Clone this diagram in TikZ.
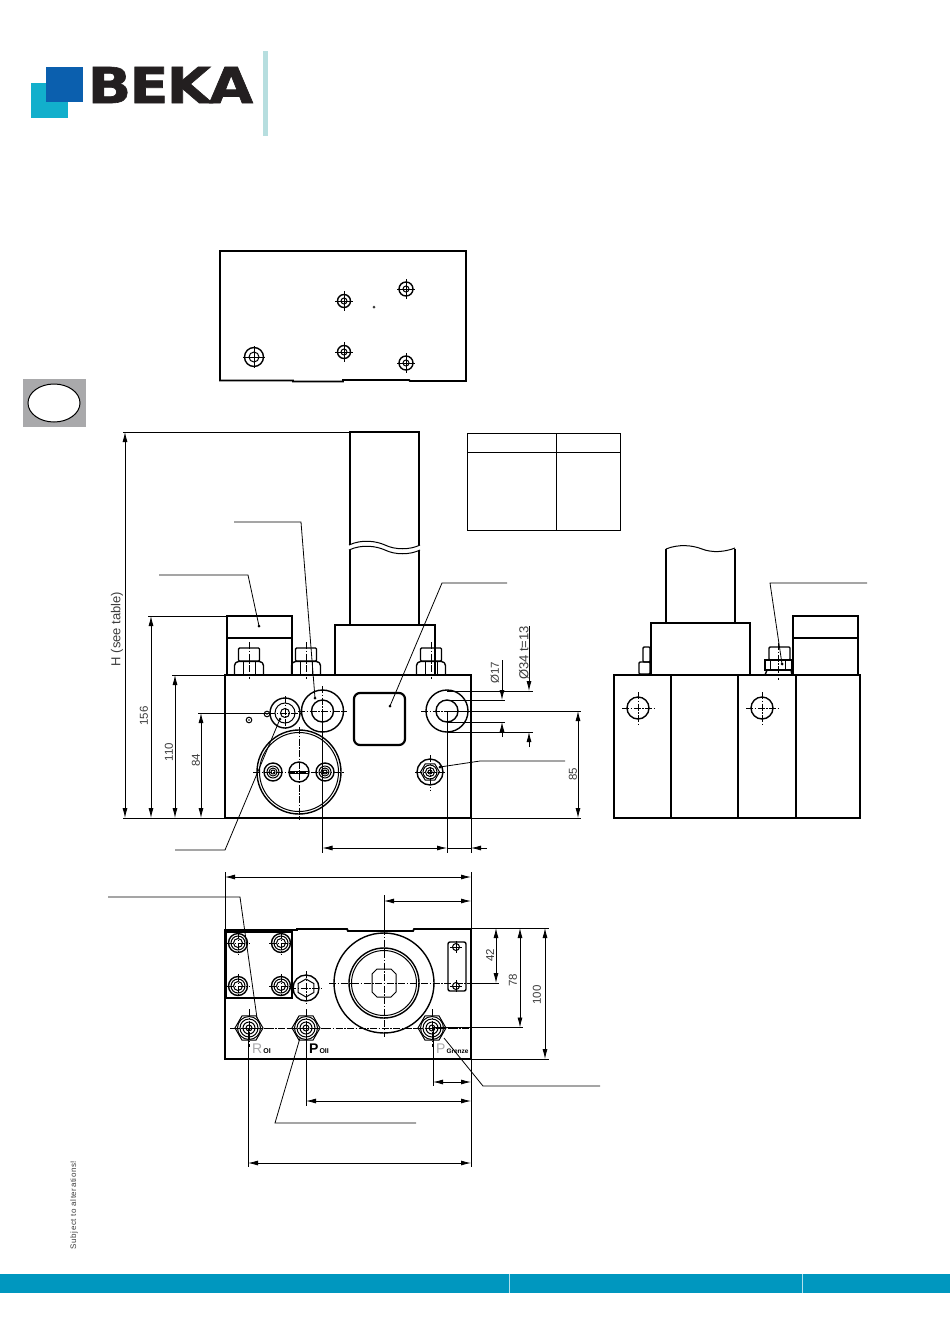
\documentclass[tikz,border=0pt]{standalone}
\usepackage{fontspec}
\usepackage{xcolor}
\setmainfont{Liberation Sans}
\newfontfamily\logofont[BoldFeatures={FakeBold=1.2,LetterSpace=-3}]{DejaVu Sans}
\usetikzlibrary{arrows.meta}
\usetikzlibrary{positioning}
\usetikzlibrary{calc}
\definecolor{bekacyan}{HTML}{12AFCC}
\definecolor{bekablue}{HTML}{0B5FAE}
\definecolor{bekabar}{HTML}{B7DEDF}
\definecolor{bekaband}{HTML}{0097BF}
\definecolor{bekagrey}{HTML}{A9A9AB}
\definecolor{dimgrey}{HTML}{3C3C3C}
\tikzset{
  outline/.style={draw=black,line width=1.8pt},
  thinpart/.style={draw=black,line width=1pt},
  extline/.style={draw=black,line width=0.8pt},
  leader/.style={draw=black,line width=0.8pt},
  cline/.style={draw=black,line width=0.7pt,dash pattern=on 7pt off 1.5pt on 1.5pt off 1.5pt},
  dimline/.style={draw=black,line width=0.8pt,{Latex[length=10pt,width=5pt]}-{Latex[length=10pt,width=5pt]}},
  dimend/.style={draw=black,line width=0.8pt,-{Latex[length=10pt,width=5pt]}},
  dimtext/.style={font=\fontsize{11.5}{13}\selectfont,text=dimgrey,rotate=90,inner sep=0pt},
  longtext/.style={dimtext,font=\fontsize{13}{14}\selectfont},
  portlabel/.style={font=\fontsize{14}{15}\selectfont,anchor=base west,inner sep=0pt},
  dotmark/.style={fill=black,draw=none}
}
% cross of centre lines
\newcommand{\ccross}[2]{
  \draw[cline] ($(#1)+(-#2,0)$) -- ($(#1)+(#2,0)$);
  \draw[cline] ($(#1)+(0,-#2)$) -- ($(#1)+(0,#2)$);
}
% flat topped hexagon
\newcommand{\hexa}[2]{
  \draw[thinpart,shift={(#1)}] (0:#2) -- (60:#2) -- (120:#2) -- (180:#2) -- (240:#2) -- (300:#2) -- cycle;
}
% fitting seen from the end
\newcommand{\portnut}[1]{
  \hexa{#1}{14}
  \draw[thinpart] (#1) circle (11.5);
  \draw[thinpart] (#1) circle (9);
  \draw[thinpart] (#1) circle (6);
  \draw[thinpart] (#1) circle (3);
  \ccross{#1}{19}
}
% mounting bolt
\newcommand{\boltdown}[1]{
  \draw[outline,line width=1.4pt] (#1) circle (9.5);
  \draw[thinpart] (#1) circle (7);
  \draw[thinpart] (#1) circle (4.5);
  \ccross{#1}{12}
}
% fitting seen from the side
\newcommand{\sidenut}[1]{
  \draw[outline,line width=1.4pt,rounded corners=1pt] (#1-10.5,661) rectangle (#1+10.5,648);
  \draw[outline,line width=1.4pt,rounded corners=1.5pt] (#1-14.5,674.5) -- (#1-14.5,664) -- (#1-12,661.5) -- (#1+12,661.5) -- (#1+14.5,664) -- (#1+14.5,674.5);
  \draw[thinpart] (#1-6,662) -- (#1-6,674) (#1+6,662) -- (#1+6,674);
  \draw[cline] (#1,642) -- (#1,679);
}
\begin{document}
\begin{tikzpicture}[x=1pt,y=-1pt]
  \useasboundingbox (0,0) rectangle (950,1344);
  % logo
  \fill[bekacyan] (31,83) rectangle (68,118);
  \fill[bekablue] (46,67) rectangle (83,102);
  \node[inner sep=0pt,xscale=1.15] (beka) at (170.5,85) {\logofont\fontsize{49.5}{50}\selectfont\bfseries\textcolor[HTML]{231F20}{BEKA}};
  \fill[bekabar] (263,51) rectangle (268,136);
  % side tab
  \fill[bekagrey] (23,379) rectangle (86,427);
  \draw[fill=white,line width=1pt] (54,403) ellipse (26 and 19);
  % bottom band
  \fill[bekaband] (0,1274) rectangle (950,1293);
  \draw[white!70!bekaband,line width=0.5pt] (509,1274) -- (509,1293) (802,1274) -- (802,1293);
  \node[rotate=90,inner sep=0pt,text=dimgrey,font=\fontsize{8}{9}\selectfont\addfontfeature{LetterSpace=7}] (subject) at (74,1205) {Subject to alterations!};

  % top plate
  \draw[outline] (293,380.5) -- (220,380.5) -- (220,251) -- (466,251) -- (466,381) -- (410,381) -- (409,380) -- (343,380) -- (343,381.5) -- (293,381.5) -- cycle;
  \draw[outline,line width=1.4pt] (254,357) circle (9.5);
  \draw[thinpart] (254,357) circle (5);
  \foreach \hx/\hy/\hr in {344/301/6.5,406/289/7,344/352/6.5,406/363/7}{
    \draw[outline,line width=1.4pt] (\hx,\hy) circle (\hr);
    \draw[thinpart] (\hx,\hy) circle (3);
    \draw[extline] (\hx-9,\hy) -- (\hx+9,\hy) (\hx,\hy-10) -- (\hx,\hy+10);
  }
  \draw[extline] (243,357) -- (265,357) (254,346) -- (254,368);
  \fill[dimgrey] (374,307) circle (1.5);

  % table
  \draw[thinpart] (467,433) rectangle (620,530);
  \draw[thinpart] (467,452) -- (620,452) (556,433) -- (556,530);

  % front view
  \draw[outline] (225,675) rectangle (471,818);
  \draw[outline] (227,675) -- (227,616) -- (292,616) -- (292,675);
  \draw[outline] (227,638) -- (292,638);
  \draw[outline] (335,675) -- (335,625) -- (435,625) -- (435,675);
  \draw[outline] (350,625) -- (350,550) (350,545) -- (350,432) -- (419,432) -- (419,545) (419,550) -- (419,625);
  \draw[thinpart] (349,545) .. controls (362,539) and (376,541) .. (385,545) .. controls (395,550) and (410,550) .. (420,545);
  \draw[thinpart] (349,550) .. controls (362,544) and (376,546) .. (385,550) .. controls (395,555) and (410,555) .. (420,550);
  \sidenut{249}
  \sidenut{306}
  \sidenut{431}
  \draw[outline,line width=1.4pt] (285,713) circle (15);
  \draw[thinpart] (285,713) circle (10);
  \draw[thinpart] (285,713) circle (4.5);
  \draw[cline] (268,713) -- (302,713) (285,696) -- (285,730);
  \draw[outline,line width=1.4pt] (322.5,711) circle (21);
  \draw[outline,line width=1.4pt] (322.5,711) circle (11);
  \draw[cline] (298,711) -- (347,711) (322.5,686) -- (322.5,736);
  \draw[outline,line width=2.2pt,rounded corners=6pt] (354,693) rectangle (405,745);
  \draw[outline,line width=1.4pt] (447,711) circle (21);
  \draw[outline,line width=1.4pt] (447,711) circle (11);
  \draw[cline] (421,711) -- (473,711);
  \draw[outline,line width=1.4pt] (299,772) circle (42);
  \draw[thinpart] (299,772) circle (39.5);
  \draw[cline] (253,772) -- (345,772) (299,727) -- (299,820);
  \draw[outline,line width=1.4pt] (299,772) circle (10);
  \draw[thinpart] (289,771) -- (309,771) (289,773) -- (309,773);
  \foreach \hx in {273,325}{
    \draw[outline,line width=1.4pt] (\hx,772) circle (9);
    \draw[thinpart] (\hx,772) circle (6);
    \draw[thinpart] (\hx,772) circle (4);
    \draw[thinpart] (\hx,772) circle (2);
  }
  \draw[outline,line width=1.4pt] (430,772) circle (13);
  \hexa{430,772}{9.5}
  \draw[thinpart] (430,772) circle (7);
  \draw[thinpart] (430,772) circle (4.5);
  \draw[thinpart] (430,772) circle (2);
  \draw[cline] (415,772) -- (445,772) (430,755) -- (430,790);
  \draw[thinpart,fill=white] (267,714) circle (2.8);
  \draw[thinpart,fill=white] (249,720) circle (2.8);
  \fill (249,720) circle (0.8);
  \fill (267,714) circle (0.8);

  % front view dimensions
  \draw[extline] (123,432) -- (350,432);
  \draw[extline] (123,818) -- (225,818);
  \draw[extline] (148,616) -- (227,616);
  \draw[extline] (172,675) -- (225,675);
  \draw[extline] (198,713) -- (270,713);
  \draw[dimline] (125,432) -- (125,818);
  \draw[dimline] (151,616) -- (151,818);
  \draw[dimline] (175,675) -- (175,818);
  \draw[dimline] (201,713) -- (201,818);
  \node[longtext] (hsee) at (117,629) {H (see table)};
  \node[dimtext] (dima) at (144,716) {156};
  \node[dimtext] (dimb) at (169,752) {110};
  \node[dimtext] (dimc) at (196,760) {84};
  \draw[extline] (447,691) -- (533,691);
  \draw[extline] (447,700) -- (505,700);
  \draw[extline] (447,722) -- (505,722);
  \draw[extline] (447,732) -- (533,732);
  \draw[extline] (447,711) -- (581,711);
  \draw[extline] (471,818) -- (581,818);
  \draw[dimend] (502,660) -- (502,700);
  \draw[dimend] (502,737) -- (502,722);
  \draw[dimend] (529,626) -- (529,691);
  \draw[dimend] (529,747) -- (529,732);
  \draw[dimline] (578,711) -- (578,818);
  \node[dimtext] (dimd) at (495,673) {Ø17};
  \node[longtext] (dime) at (524,653) {Ø34 t=13};
  \node[dimtext] (dimf) at (573,774) {85};
  \draw[extline] (322.5,711) -- (322.5,853);
  \draw[extline] (447,711) -- (447,853);
  \draw[extline] (471,818) -- (471,853);
  \draw[dimline] (322.5,848) -- (447,848);
  \draw[extline] (447,848) -- (471,848);
  \draw[dimend] (487,848) -- (471,848);

  % leader lines
  \draw[leader] (234,522) -- (301,522) -- (315,698);
  \fill (315,698) circle (1.5);
  \draw[leader] (159,575) -- (248,575) -- (259,626);
  \fill (259,626) circle (1.5);
  \draw[leader] (507,583) -- (442,583) -- (390,706);
  \fill (390,706) circle (1.5);
  \draw[leader] (175,850) -- (225,850) -- (280,719);
  \fill (280,719) circle (1.5);
  \draw[leader] (565,761) -- (480,761) -- (440,767);
  \fill (440,767) circle (1.5);
  \draw[leader] (867,583) -- (770,583) -- (782,664);
  \fill (782,664) circle (1.5);

  % side view
  \draw[outline] (614,675) rectangle (860,818);
  \draw[outline] (671,675) -- (671,818) (738,675) -- (738,818) (796,675) -- (796,818);
  \draw[outline] (793,675) -- (793,616) -- (858,616) -- (858,675);
  \draw[outline] (793,638) -- (858,638);
  \draw[outline] (651,675) -- (651,623) -- (750,623) -- (750,675);
  \draw[outline] (666,623) -- (666,549) (735,623) -- (735,549);
  \draw[thinpart] (666,549) .. controls (678,544) and (692,545) .. (702,549) .. controls (712,553) and (725,552) .. (735,548);
  \draw[outline,line width=1.4pt,rounded corners=1pt] (643,662) rectangle (650,647);
  \draw[outline,line width=1.4pt,rounded corners=1pt] (639,674) rectangle (650,662);
  \draw[outline,line width=1.4pt,rounded corners=1pt] (769,660) rectangle (790,647);
  \draw[outline,line width=1.4pt] (765,670) rectangle (792,660);
  \draw[outline,line width=1.4pt] (765,675) -- (767,670) -- (791,670) -- (792,675);
  \draw[thinpart] (770,660) -- (770,670) (785,660) -- (785,670);
  \draw[cline] (778,643) -- (778,680);
  \foreach \hx in {638,762}{
    \draw[outline,line width=1.4pt] (\hx,708) circle (11);
    \ccross{\hx,708}{16}
  }

  % bottom view
  \draw[outline] (297,930) -- (225,930) -- (225,1059) -- (471,1059) -- (471,929) -- (414,929) -- (413,931) -- (348,931) -- (347,929) -- (297,929) -- cycle;
  \draw[outline] (226,932) rectangle (292,998);
  \boltdown{238,943}
  \boltdown{281,943}
  \boltdown{238,986}
  \boltdown{281,986}
  \draw[outline,line width=1.4pt] (306,988) circle (13);
  \draw[thinpart,shift={(306,988)}] (30:9) -- (90:9) -- (150:9) -- (210:9) -- (270:9) -- (330:9) -- cycle;
  \ccross{306,988}{17}
  \draw[outline,line width=1.4pt] (384,983) circle (50);
  \draw[outline,line width=1.4pt] (384,983) circle (35);
  \draw[thinpart] (384,983) circle (32.5);
  \draw[thinpart] (372,974) -- (377,969) -- (391,969) -- (396,974) -- (396,992) -- (391,997) -- (377,997) -- (372,992) -- cycle;
  \draw[cline] (329,983) -- (471,983) (384,928) -- (384,1037);
  \draw[outline,line width=1.4pt,rounded corners=2pt] (448,942) rectangle (466,991);
  \foreach \hy in {947,986}{
    \draw[thinpart] (456,\hy) circle (3.5);
    \draw[extline] (450,\hy) -- (462,\hy) (456,\hy-6) -- (456,\hy+6);
  }
  \draw[cline] (232,1028) -- (470,1028);
  \portnut{249,1028}
  \portnut{306,1028}
  \portnut{432,1028}
  \node[portlabel] (rport) at (252,1053) {\textcolor{bekagrey}{R}\kern1pt{\fontsize{7}{8}\selectfont\bfseries OI}};
  \node[portlabel] (pport) at (309,1053) {\textbf{P}\kern1pt{\fontsize{7}{8}\selectfont\bfseries OII}};
  \node[portlabel] (gport) at (436,1053) {\textcolor{bekagrey}{P}\kern1pt{\fontsize{6.5}{8}\selectfont\bfseries Grenze}};

  % bottom view dimensions
  \draw[extline] (225,872) -- (225,930);
  \draw[extline] (471,872) -- (471,930);
  \draw[extline] (384,895) -- (384,930);
  \draw[dimline] (225,877) -- (471,877);
  \draw[dimline] (384,901) -- (471,901);
  \draw[extline] (471,928) -- (549,928);
  \draw[extline] (471,983) -- (499,983);
  \draw[extline] (432,1027.5) -- (523,1027.5);
  \draw[extline] (471,1059) -- (549,1059);
  \draw[dimline] (496,928) -- (496,983);
  \draw[dimline] (520,928) -- (520,1027.5);
  \draw[dimline] (545,928) -- (545,1059);
  \node[dimtext] (dimg) at (490,955) {42};
  \node[dimtext] (dimh) at (513,980) {78};
  \node[dimtext] (dimi) at (537,995) {100};
  \draw[extline] (433,1028) -- (433,1086);
  \draw[extline] (306,1028) -- (306,1106);
  \draw[extline] (248,1028) -- (248,1167);
  \draw[extline] (471,1059) -- (471,1167);
  \draw[dimline] (433,1082) -- (471,1082);
  \draw[dimline] (306,1101) -- (471,1101);
  \draw[dimline] (248,1163) -- (471,1163);
  \draw[leader] (108,897) -- (240,897) -- (257,1018);
  \draw[leader] (416,1123) -- (275,1123) -- (300,1038);
  \draw[leader] (600,1086) -- (483,1086) -- (444,1038);
\end{tikzpicture}
\end{document}
